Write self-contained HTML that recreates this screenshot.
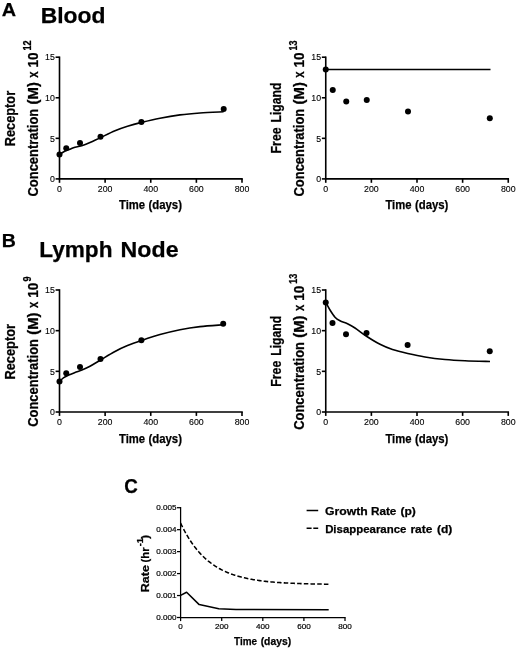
<!DOCTYPE html>
<html><head><meta charset="utf-8"><title>Figure</title>
<style>
html,body{margin:0;padding:0;background:#fff;}
body{width:520px;height:650px;overflow:hidden;}
svg{display:block;filter:blur(0.3px);}
text{fill:#000;}
.t{font-family:"Liberation Sans",sans-serif;font-weight:400;stroke:#000;stroke-width:0.12px;}
.t2{font-family:"Liberation Sans",sans-serif;font-weight:400;stroke:#000;stroke-width:0.2px;}
.b{font-family:"Liberation Sans",sans-serif;font-weight:700;stroke:#000;stroke-width:0.25px;}
</style></head><body>
<svg width="520" height="650" viewBox="0 0 520 650">
<rect width="520" height="650" fill="#fff"/>
<text x="1.70" y="15.70" font-size="19.2" class="b" textLength="14.34" lengthAdjust="spacingAndGlyphs">A</text>
<text x="1.68" y="247.40" font-size="19.2" class="b" textLength="14.09" lengthAdjust="spacingAndGlyphs">B</text>
<text x="124.15" y="493.30" font-size="19.6" class="b" textLength="13.56" lengthAdjust="spacingAndGlyphs">C</text>
<text x="40.66" y="23.10" font-size="22.5" class="b" textLength="64.73" lengthAdjust="spacingAndGlyphs">Blood</text>
<text x="39.17" y="257.10" font-size="22.5" class="b" textLength="73.30" lengthAdjust="spacingAndGlyphs">Lymph</text>
<text x="120.64" y="257.10" font-size="22.5" class="b" textLength="57.92" lengthAdjust="spacingAndGlyphs">Node</text>
<path d="M59.50 57.20 V178.90 H242.00" fill="none" stroke="#000" stroke-width="1.6" stroke-linecap="square"/>
<line x1="59.50" y1="178.90" x2="59.50" y2="182.80" stroke="#000" stroke-width="1.6"/>
<text x="59.50" y="192.10" font-size="9.8" text-anchor="middle" class="t" textLength="4.90" lengthAdjust="spacingAndGlyphs">0</text>
<line x1="105.12" y1="178.90" x2="105.12" y2="182.80" stroke="#000" stroke-width="1.6"/>
<text x="105.12" y="192.10" font-size="9.8" text-anchor="middle" class="t" textLength="14.71" lengthAdjust="spacingAndGlyphs">200</text>
<line x1="150.75" y1="178.90" x2="150.75" y2="182.80" stroke="#000" stroke-width="1.6"/>
<text x="150.75" y="192.10" font-size="9.8" text-anchor="middle" class="t" textLength="14.71" lengthAdjust="spacingAndGlyphs">400</text>
<line x1="196.38" y1="178.90" x2="196.38" y2="182.80" stroke="#000" stroke-width="1.6"/>
<text x="196.38" y="192.10" font-size="9.8" text-anchor="middle" class="t" textLength="14.71" lengthAdjust="spacingAndGlyphs">600</text>
<line x1="242.00" y1="178.90" x2="242.00" y2="182.80" stroke="#000" stroke-width="1.6"/>
<text x="242.00" y="192.10" font-size="9.8" text-anchor="middle" class="t" textLength="14.71" lengthAdjust="spacingAndGlyphs">800</text>
<line x1="55.60" y1="178.90" x2="59.50" y2="178.90" stroke="#000" stroke-width="1.6"/>
<text x="54.90" y="182.13" font-size="9.8" text-anchor="end" class="t" textLength="4.90" lengthAdjust="spacingAndGlyphs">0</text>
<line x1="55.60" y1="138.33" x2="59.50" y2="138.33" stroke="#000" stroke-width="1.6"/>
<text x="54.90" y="141.57" font-size="9.8" text-anchor="end" class="t" textLength="4.90" lengthAdjust="spacingAndGlyphs">5</text>
<line x1="55.60" y1="97.77" x2="59.50" y2="97.77" stroke="#000" stroke-width="1.6"/>
<text x="54.90" y="101.00" font-size="9.8" text-anchor="end" class="t" textLength="9.81" lengthAdjust="spacingAndGlyphs">10</text>
<line x1="55.60" y1="57.20" x2="59.50" y2="57.20" stroke="#000" stroke-width="1.6"/>
<text x="54.90" y="60.43" font-size="9.8" text-anchor="end" class="t" textLength="9.81" lengthAdjust="spacingAndGlyphs">15</text>
<path d="M59.50 154.50 C60.08 154.13 61.88 152.95 63.00 152.30 C64.12 151.65 65.08 151.12 66.25 150.60 C67.42 150.08 68.54 149.77 70.00 149.20 C71.46 148.63 72.92 147.82 75.00 147.20 C77.08 146.58 80.00 146.27 82.50 145.50 C85.00 144.73 87.00 143.92 90.00 142.60 C93.00 141.28 96.33 139.57 100.50 137.60 C104.67 135.62 110.50 132.64 115.00 130.75 C119.50 128.86 123.08 127.64 127.50 126.25 C131.92 124.86 136.08 123.74 141.50 122.40 C146.92 121.06 153.58 119.45 160.00 118.20 C166.42 116.95 173.33 115.77 180.00 114.90 C186.67 114.03 192.73 113.52 200.00 113.00 C207.27 112.48 219.67 112.00 223.60 111.80" fill="none" stroke="#000" stroke-width="1.6"/>
<circle cx="59.50" cy="154.50" r="3.0" fill="#000"/>
<circle cx="66.25" cy="148.25" r="3.0" fill="#000"/>
<circle cx="80.00" cy="143.00" r="3.0" fill="#000"/>
<circle cx="100.50" cy="136.75" r="3.0" fill="#000"/>
<circle cx="141.40" cy="122.10" r="3.0" fill="#000"/>
<circle cx="223.70" cy="109.00" r="3.0" fill="#000"/>
<text x="118.99" y="209.40" font-size="13.2" class="b" textLength="26.09" lengthAdjust="spacingAndGlyphs">Time</text>
<text x="148.53" y="209.40" font-size="13.2" class="b" textLength="33.44" lengthAdjust="spacingAndGlyphs">(days)</text>
<text transform="translate(38.00 196.52) rotate(-90)" font-size="13.8" class="b" textLength="87.80" lengthAdjust="spacingAndGlyphs">Concentration</text>
<text transform="translate(38.00 104.44) rotate(-90)" font-size="13.8" class="b" textLength="22.31" lengthAdjust="spacingAndGlyphs">(M)</text>
<text transform="translate(38.00 77.68) rotate(-90)" font-size="13.8" class="b" textLength="6.28" lengthAdjust="spacingAndGlyphs">x</text>
<text transform="translate(38.00 67.54) rotate(-90)" font-size="13.8" class="b" textLength="15.02" lengthAdjust="spacingAndGlyphs">10</text>
<text transform="translate(31.00 50.47) rotate(-90)" font-size="10.5" class="b" textLength="10.16" lengthAdjust="spacingAndGlyphs">12</text>
<text transform="translate(14.90 146.37) rotate(-90)" font-size="13.8" class="b" textLength="55.55" lengthAdjust="spacingAndGlyphs">Receptor</text>
<path d="M325.75 57.20 V178.90 H508.25" fill="none" stroke="#000" stroke-width="1.6" stroke-linecap="square"/>
<line x1="325.75" y1="178.90" x2="325.75" y2="182.80" stroke="#000" stroke-width="1.6"/>
<text x="325.75" y="192.10" font-size="9.8" text-anchor="middle" class="t" textLength="4.90" lengthAdjust="spacingAndGlyphs">0</text>
<line x1="371.38" y1="178.90" x2="371.38" y2="182.80" stroke="#000" stroke-width="1.6"/>
<text x="371.38" y="192.10" font-size="9.8" text-anchor="middle" class="t" textLength="14.71" lengthAdjust="spacingAndGlyphs">200</text>
<line x1="417.00" y1="178.90" x2="417.00" y2="182.80" stroke="#000" stroke-width="1.6"/>
<text x="417.00" y="192.10" font-size="9.8" text-anchor="middle" class="t" textLength="14.71" lengthAdjust="spacingAndGlyphs">400</text>
<line x1="462.62" y1="178.90" x2="462.62" y2="182.80" stroke="#000" stroke-width="1.6"/>
<text x="462.62" y="192.10" font-size="9.8" text-anchor="middle" class="t" textLength="14.71" lengthAdjust="spacingAndGlyphs">600</text>
<line x1="508.25" y1="178.90" x2="508.25" y2="182.80" stroke="#000" stroke-width="1.6"/>
<text x="508.25" y="192.10" font-size="9.8" text-anchor="middle" class="t" textLength="14.71" lengthAdjust="spacingAndGlyphs">800</text>
<line x1="321.85" y1="178.90" x2="325.75" y2="178.90" stroke="#000" stroke-width="1.6"/>
<text x="321.15" y="182.13" font-size="9.8" text-anchor="end" class="t" textLength="4.90" lengthAdjust="spacingAndGlyphs">0</text>
<line x1="321.85" y1="138.33" x2="325.75" y2="138.33" stroke="#000" stroke-width="1.6"/>
<text x="321.15" y="141.57" font-size="9.8" text-anchor="end" class="t" textLength="4.90" lengthAdjust="spacingAndGlyphs">5</text>
<line x1="321.85" y1="97.77" x2="325.75" y2="97.77" stroke="#000" stroke-width="1.6"/>
<text x="321.15" y="101.00" font-size="9.8" text-anchor="end" class="t" textLength="9.81" lengthAdjust="spacingAndGlyphs">10</text>
<line x1="321.85" y1="57.20" x2="325.75" y2="57.20" stroke="#000" stroke-width="1.6"/>
<text x="321.15" y="60.43" font-size="9.8" text-anchor="end" class="t" textLength="9.81" lengthAdjust="spacingAndGlyphs">15</text>
<path d="M325.75 69.60 L490.50 69.60" fill="none" stroke="#000" stroke-width="1.5" stroke-linejoin="round"/>
<circle cx="325.75" cy="69.50" r="3.0" fill="#000"/>
<circle cx="332.75" cy="90.00" r="3.0" fill="#000"/>
<circle cx="346.25" cy="101.50" r="3.0" fill="#000"/>
<circle cx="366.75" cy="100.00" r="3.0" fill="#000"/>
<circle cx="408.00" cy="111.50" r="3.0" fill="#000"/>
<circle cx="489.80" cy="118.30" r="3.0" fill="#000"/>
<text x="385.39" y="209.40" font-size="13.2" class="b" textLength="26.09" lengthAdjust="spacingAndGlyphs">Time</text>
<text x="414.93" y="209.40" font-size="13.2" class="b" textLength="33.44" lengthAdjust="spacingAndGlyphs">(days)</text>
<text transform="translate(304.25 196.52) rotate(-90)" font-size="13.8" class="b" textLength="87.80" lengthAdjust="spacingAndGlyphs">Concentration</text>
<text transform="translate(304.25 104.44) rotate(-90)" font-size="13.8" class="b" textLength="22.31" lengthAdjust="spacingAndGlyphs">(M)</text>
<text transform="translate(304.25 77.68) rotate(-90)" font-size="13.8" class="b" textLength="6.28" lengthAdjust="spacingAndGlyphs">x</text>
<text transform="translate(304.25 67.54) rotate(-90)" font-size="13.8" class="b" textLength="15.02" lengthAdjust="spacingAndGlyphs">10</text>
<text transform="translate(297.25 50.47) rotate(-90)" font-size="10.5" class="b" textLength="10.11" lengthAdjust="spacingAndGlyphs">13</text>
<text transform="translate(281.15 153.43) rotate(-90)" font-size="13.8" class="b" textLength="26.06" lengthAdjust="spacingAndGlyphs">Free</text>
<text transform="translate(281.15 122.42) rotate(-90)" font-size="13.8" class="b" textLength="39.81" lengthAdjust="spacingAndGlyphs">Ligand</text>
<path d="M59.50 290.00 V412.00 H242.00" fill="none" stroke="#000" stroke-width="1.6" stroke-linecap="square"/>
<line x1="59.50" y1="412.00" x2="59.50" y2="415.90" stroke="#000" stroke-width="1.6"/>
<text x="59.50" y="425.20" font-size="9.8" text-anchor="middle" class="t" textLength="4.90" lengthAdjust="spacingAndGlyphs">0</text>
<line x1="105.12" y1="412.00" x2="105.12" y2="415.90" stroke="#000" stroke-width="1.6"/>
<text x="105.12" y="425.20" font-size="9.8" text-anchor="middle" class="t" textLength="14.71" lengthAdjust="spacingAndGlyphs">200</text>
<line x1="150.75" y1="412.00" x2="150.75" y2="415.90" stroke="#000" stroke-width="1.6"/>
<text x="150.75" y="425.20" font-size="9.8" text-anchor="middle" class="t" textLength="14.71" lengthAdjust="spacingAndGlyphs">400</text>
<line x1="196.38" y1="412.00" x2="196.38" y2="415.90" stroke="#000" stroke-width="1.6"/>
<text x="196.38" y="425.20" font-size="9.8" text-anchor="middle" class="t" textLength="14.71" lengthAdjust="spacingAndGlyphs">600</text>
<line x1="242.00" y1="412.00" x2="242.00" y2="415.90" stroke="#000" stroke-width="1.6"/>
<text x="242.00" y="425.20" font-size="9.8" text-anchor="middle" class="t" textLength="14.71" lengthAdjust="spacingAndGlyphs">800</text>
<line x1="55.60" y1="412.00" x2="59.50" y2="412.00" stroke="#000" stroke-width="1.6"/>
<text x="54.90" y="415.23" font-size="9.8" text-anchor="end" class="t" textLength="4.90" lengthAdjust="spacingAndGlyphs">0</text>
<line x1="55.60" y1="371.33" x2="59.50" y2="371.33" stroke="#000" stroke-width="1.6"/>
<text x="54.90" y="374.57" font-size="9.8" text-anchor="end" class="t" textLength="4.90" lengthAdjust="spacingAndGlyphs">5</text>
<line x1="55.60" y1="330.67" x2="59.50" y2="330.67" stroke="#000" stroke-width="1.6"/>
<text x="54.90" y="333.90" font-size="9.8" text-anchor="end" class="t" textLength="9.81" lengthAdjust="spacingAndGlyphs">10</text>
<line x1="55.60" y1="290.00" x2="59.50" y2="290.00" stroke="#000" stroke-width="1.6"/>
<text x="54.90" y="293.23" font-size="9.8" text-anchor="end" class="t" textLength="9.81" lengthAdjust="spacingAndGlyphs">15</text>
<path d="M59.50 381.50 C60.21 380.87 62.21 378.78 63.75 377.70 C65.29 376.62 66.88 375.87 68.75 375.00 C70.62 374.13 72.71 373.37 75.00 372.50 C77.29 371.63 80.00 370.84 82.50 369.80 C85.00 368.76 87.00 367.88 90.00 366.25 C93.00 364.62 96.33 362.46 100.50 360.00 C104.67 357.54 110.50 353.90 115.00 351.50 C119.50 349.10 123.08 347.43 127.50 345.60 C131.92 343.77 136.08 342.33 141.50 340.50 C146.92 338.67 153.58 336.40 160.00 334.60 C166.42 332.80 173.33 331.03 180.00 329.70 C186.67 328.37 192.83 327.42 200.00 326.60 C207.17 325.78 219.17 325.10 223.00 324.80" fill="none" stroke="#000" stroke-width="1.6"/>
<circle cx="59.50" cy="381.50" r="3.0" fill="#000"/>
<circle cx="66.25" cy="373.25" r="3.0" fill="#000"/>
<circle cx="80.00" cy="367.00" r="3.0" fill="#000"/>
<circle cx="100.50" cy="359.00" r="3.0" fill="#000"/>
<circle cx="141.40" cy="340.20" r="3.0" fill="#000"/>
<circle cx="223.20" cy="323.75" r="3.0" fill="#000"/>
<text x="118.99" y="443.20" font-size="13.2" class="b" textLength="26.09" lengthAdjust="spacingAndGlyphs">Time</text>
<text x="148.53" y="443.20" font-size="13.2" class="b" textLength="33.44" lengthAdjust="spacingAndGlyphs">(days)</text>
<text transform="translate(38.00 426.82) rotate(-90)" font-size="13.8" class="b" textLength="87.80" lengthAdjust="spacingAndGlyphs">Concentration</text>
<text transform="translate(38.00 334.74) rotate(-90)" font-size="13.8" class="b" textLength="22.31" lengthAdjust="spacingAndGlyphs">(M)</text>
<text transform="translate(38.00 307.98) rotate(-90)" font-size="13.8" class="b" textLength="6.28" lengthAdjust="spacingAndGlyphs">x</text>
<text transform="translate(38.00 297.84) rotate(-90)" font-size="13.8" class="b" textLength="15.02" lengthAdjust="spacingAndGlyphs">10</text>
<text transform="translate(31.00 281.52) rotate(-90)" font-size="10.5" class="b" textLength="5.05" lengthAdjust="spacingAndGlyphs">9</text>
<text transform="translate(14.90 379.57) rotate(-90)" font-size="13.8" class="b" textLength="55.55" lengthAdjust="spacingAndGlyphs">Receptor</text>
<path d="M325.75 290.00 V412.00 H508.25" fill="none" stroke="#000" stroke-width="1.6" stroke-linecap="square"/>
<line x1="325.75" y1="412.00" x2="325.75" y2="415.90" stroke="#000" stroke-width="1.6"/>
<text x="325.75" y="425.20" font-size="9.8" text-anchor="middle" class="t" textLength="4.90" lengthAdjust="spacingAndGlyphs">0</text>
<line x1="371.38" y1="412.00" x2="371.38" y2="415.90" stroke="#000" stroke-width="1.6"/>
<text x="371.38" y="425.20" font-size="9.8" text-anchor="middle" class="t" textLength="14.71" lengthAdjust="spacingAndGlyphs">200</text>
<line x1="417.00" y1="412.00" x2="417.00" y2="415.90" stroke="#000" stroke-width="1.6"/>
<text x="417.00" y="425.20" font-size="9.8" text-anchor="middle" class="t" textLength="14.71" lengthAdjust="spacingAndGlyphs">400</text>
<line x1="462.62" y1="412.00" x2="462.62" y2="415.90" stroke="#000" stroke-width="1.6"/>
<text x="462.62" y="425.20" font-size="9.8" text-anchor="middle" class="t" textLength="14.71" lengthAdjust="spacingAndGlyphs">600</text>
<line x1="508.25" y1="412.00" x2="508.25" y2="415.90" stroke="#000" stroke-width="1.6"/>
<text x="508.25" y="425.20" font-size="9.8" text-anchor="middle" class="t" textLength="14.71" lengthAdjust="spacingAndGlyphs">800</text>
<line x1="321.85" y1="412.00" x2="325.75" y2="412.00" stroke="#000" stroke-width="1.6"/>
<text x="321.15" y="415.23" font-size="9.8" text-anchor="end" class="t" textLength="4.90" lengthAdjust="spacingAndGlyphs">0</text>
<line x1="321.85" y1="371.33" x2="325.75" y2="371.33" stroke="#000" stroke-width="1.6"/>
<text x="321.15" y="374.57" font-size="9.8" text-anchor="end" class="t" textLength="4.90" lengthAdjust="spacingAndGlyphs">5</text>
<line x1="321.85" y1="330.67" x2="325.75" y2="330.67" stroke="#000" stroke-width="1.6"/>
<text x="321.15" y="333.90" font-size="9.8" text-anchor="end" class="t" textLength="9.81" lengthAdjust="spacingAndGlyphs">10</text>
<line x1="321.85" y1="290.00" x2="325.75" y2="290.00" stroke="#000" stroke-width="1.6"/>
<text x="321.15" y="293.23" font-size="9.8" text-anchor="end" class="t" textLength="9.81" lengthAdjust="spacingAndGlyphs">15</text>
<path d="M325.75 302.50 C326.46 303.75 328.46 307.55 330.00 310.00 C331.54 312.45 333.33 315.41 335.00 317.20 C336.67 318.99 337.92 319.66 340.00 320.75 C342.08 321.84 345.00 322.54 347.50 323.75 C350.00 324.96 351.83 325.92 355.00 328.00 C358.17 330.08 362.33 333.53 366.50 336.25 C370.67 338.97 375.67 342.09 380.00 344.30 C384.33 346.51 387.88 347.97 392.50 349.50 C397.12 351.03 402.33 352.25 407.75 353.50 C413.17 354.75 418.79 356.00 425.00 357.00 C431.21 358.00 438.33 358.88 445.00 359.50 C451.67 360.12 457.50 360.42 465.00 360.75 C472.50 361.08 485.83 361.38 490.00 361.50" fill="none" stroke="#000" stroke-width="1.6"/>
<circle cx="325.75" cy="302.50" r="3.0" fill="#000"/>
<circle cx="332.50" cy="323.00" r="3.0" fill="#000"/>
<circle cx="346.00" cy="334.25" r="3.0" fill="#000"/>
<circle cx="366.50" cy="333.00" r="3.0" fill="#000"/>
<circle cx="407.60" cy="345.00" r="3.0" fill="#000"/>
<circle cx="489.75" cy="351.25" r="3.0" fill="#000"/>
<text x="385.39" y="443.20" font-size="13.2" class="b" textLength="26.09" lengthAdjust="spacingAndGlyphs">Time</text>
<text x="414.93" y="443.20" font-size="13.2" class="b" textLength="33.44" lengthAdjust="spacingAndGlyphs">(days)</text>
<text transform="translate(304.25 429.82) rotate(-90)" font-size="13.8" class="b" textLength="87.80" lengthAdjust="spacingAndGlyphs">Concentration</text>
<text transform="translate(304.25 337.74) rotate(-90)" font-size="13.8" class="b" textLength="22.31" lengthAdjust="spacingAndGlyphs">(M)</text>
<text transform="translate(304.25 310.98) rotate(-90)" font-size="13.8" class="b" textLength="6.28" lengthAdjust="spacingAndGlyphs">x</text>
<text transform="translate(304.25 300.84) rotate(-90)" font-size="13.8" class="b" textLength="15.02" lengthAdjust="spacingAndGlyphs">10</text>
<text transform="translate(297.25 283.77) rotate(-90)" font-size="10.5" class="b" textLength="10.11" lengthAdjust="spacingAndGlyphs">13</text>
<text transform="translate(281.15 386.73) rotate(-90)" font-size="13.8" class="b" textLength="26.06" lengthAdjust="spacingAndGlyphs">Free</text>
<text transform="translate(281.15 355.72) rotate(-90)" font-size="13.8" class="b" textLength="39.81" lengthAdjust="spacingAndGlyphs">Ligand</text>
<path d="M180.60 507.70 V617.50 H345.00" fill="none" stroke="#000" stroke-width="1.25" stroke-linecap="square"/>
<line x1="180.60" y1="617.50" x2="180.60" y2="621.10" stroke="#000" stroke-width="1.25"/>
<text x="180.60" y="629.40" font-size="8.1" text-anchor="middle" class="t2" textLength="4.50" lengthAdjust="spacingAndGlyphs">0</text>
<line x1="221.70" y1="617.50" x2="221.70" y2="621.10" stroke="#000" stroke-width="1.25"/>
<text x="221.70" y="629.40" font-size="8.1" text-anchor="middle" class="t2" textLength="13.51" lengthAdjust="spacingAndGlyphs">200</text>
<line x1="262.80" y1="617.50" x2="262.80" y2="621.10" stroke="#000" stroke-width="1.25"/>
<text x="262.80" y="629.40" font-size="8.1" text-anchor="middle" class="t2" textLength="13.51" lengthAdjust="spacingAndGlyphs">400</text>
<line x1="303.90" y1="617.50" x2="303.90" y2="621.10" stroke="#000" stroke-width="1.25"/>
<text x="303.90" y="629.40" font-size="8.1" text-anchor="middle" class="t2" textLength="13.51" lengthAdjust="spacingAndGlyphs">600</text>
<line x1="345.00" y1="617.50" x2="345.00" y2="621.10" stroke="#000" stroke-width="1.25"/>
<text x="345.00" y="629.40" font-size="8.1" text-anchor="middle" class="t2" textLength="13.51" lengthAdjust="spacingAndGlyphs">800</text>
<line x1="177.00" y1="617.50" x2="180.60" y2="617.50" stroke="#000" stroke-width="1.25"/>
<text x="176.50" y="620.17" font-size="8.1" text-anchor="end" class="t2" textLength="20.27" lengthAdjust="spacingAndGlyphs">0.000</text>
<line x1="177.00" y1="595.54" x2="180.60" y2="595.54" stroke="#000" stroke-width="1.25"/>
<text x="176.50" y="598.21" font-size="8.1" text-anchor="end" class="t2" textLength="20.27" lengthAdjust="spacingAndGlyphs">0.001</text>
<line x1="177.00" y1="573.58" x2="180.60" y2="573.58" stroke="#000" stroke-width="1.25"/>
<text x="176.50" y="576.25" font-size="8.1" text-anchor="end" class="t2" textLength="20.27" lengthAdjust="spacingAndGlyphs">0.002</text>
<line x1="177.00" y1="551.62" x2="180.60" y2="551.62" stroke="#000" stroke-width="1.25"/>
<text x="176.50" y="554.29" font-size="8.1" text-anchor="end" class="t2" textLength="20.27" lengthAdjust="spacingAndGlyphs">0.003</text>
<line x1="177.00" y1="529.66" x2="180.60" y2="529.66" stroke="#000" stroke-width="1.25"/>
<text x="176.50" y="532.33" font-size="8.1" text-anchor="end" class="t2" textLength="20.27" lengthAdjust="spacingAndGlyphs">0.004</text>
<line x1="177.00" y1="507.70" x2="180.60" y2="507.70" stroke="#000" stroke-width="1.25"/>
<text x="176.50" y="510.37" font-size="8.1" text-anchor="end" class="t2" textLength="20.27" lengthAdjust="spacingAndGlyphs">0.005</text>
<path d="M180.60 523.07 L181.63 525.23 L182.66 527.31 L183.68 529.32 L184.71 531.26 L185.74 533.13 L186.76 534.93 L187.79 536.67 L188.82 538.35 L189.85 539.97 L190.88 541.54 L191.90 543.05 L192.93 544.50 L193.96 545.91 L194.98 547.27 L196.01 548.57 L197.04 549.84 L198.07 551.05 L199.09 552.23 L200.12 553.36 L201.15 554.46 L202.18 555.52 L203.20 556.53 L204.23 557.52 L205.26 558.47 L206.29 559.38 L207.31 560.26 L208.34 561.12 L209.37 561.94 L210.40 562.73 L211.43 563.50 L212.45 564.24 L213.48 564.95 L214.51 565.64 L215.53 566.30 L216.56 566.94 L217.59 567.56 L218.62 568.16 L219.64 568.73 L220.67 569.29 L221.70 569.82 L222.73 570.34 L223.75 570.84 L224.78 571.32 L225.81 571.79 L226.84 572.23 L227.87 572.67 L228.89 573.08 L229.92 573.49 L230.95 573.87 L231.97 574.25 L233.00 574.61 L234.03 574.96 L235.06 575.30 L236.09 575.62 L237.11 575.94 L238.14 576.24 L239.17 576.53 L240.19 576.81 L241.22 577.08 L242.25 577.35 L243.28 577.60 L244.31 577.84 L245.33 578.08 L246.36 578.31 L247.39 578.53 L248.42 578.74 L249.44 578.94 L250.47 579.14 L251.50 579.33 L252.53 579.51 L253.55 579.69 L254.58 579.86 L255.61 580.03 L256.63 580.18 L257.66 580.34 L258.69 580.49 L259.72 580.63 L260.75 580.77 L261.77 580.90 L262.80 581.03 L263.83 581.15 L264.86 581.27 L265.88 581.39 L266.91 581.50 L267.94 581.61 L268.97 581.71 L269.99 581.81 L271.02 581.91 L272.05 582.00 L273.07 582.09 L274.10 582.18 L275.13 582.26 L276.16 582.34 L277.19 582.42 L278.21 582.49 L279.24 582.57 L280.27 582.64 L281.30 582.70 L282.32 582.77 L283.35 582.83 L284.38 582.89 L285.40 582.95 L286.43 583.01 L287.46 583.06 L288.49 583.11 L289.51 583.16 L290.54 583.21 L291.57 583.26 L292.60 583.31 L293.62 583.35 L294.65 583.39 L295.68 583.43 L296.71 583.47 L297.74 583.51 L298.76 583.55 L299.79 583.58 L300.82 583.62 L301.85 583.65 L302.87 583.68 L303.90 583.71 L304.93 583.74 L305.95 583.77 L306.98 583.80 L308.01 583.83 L309.04 583.85 L310.06 583.88 L311.09 583.90 L312.12 583.92 L313.15 583.95 L314.18 583.97 L315.20 583.99 L316.23 584.01 L317.26 584.03 L318.28 584.05 L319.31 584.06 L320.34 584.08 L321.37 584.10 L322.39 584.12 L323.42 584.13 L324.45 584.15 L325.48 584.16 L326.50 584.17 L327.53 584.19 L328.56 584.20" fill="none" stroke="#000" stroke-width="1.55" stroke-linejoin="round" stroke-dasharray="4.5 2.2"/>
<path d="M180.60 595.40 L186.60 592.20 L199.20 604.60 L218.80 608.70 L236.00 609.50 L328.70 609.70" fill="none" stroke="#000" stroke-width="1.55" stroke-linejoin="round"/>
<text x="234.10" y="644.80" font-size="11.2" class="b" textLength="22.93" lengthAdjust="spacingAndGlyphs">Time</text>
<text x="260.68" y="644.80" font-size="11.2" class="b" textLength="30.44" lengthAdjust="spacingAndGlyphs">(days)</text>
<text transform="translate(149.30 592.14) rotate(-90)" font-size="11.2" class="b" textLength="26.94" lengthAdjust="spacingAndGlyphs">Rate</text>
<text transform="translate(149.30 562.46) rotate(-90)" font-size="11.2" class="b" textLength="15.01" lengthAdjust="spacingAndGlyphs">(hr</text>
<text transform="translate(142.60 546.37) rotate(-90)" font-size="8.8" class="b" textLength="8.24" lengthAdjust="spacingAndGlyphs">-1</text>
<text transform="translate(149.30 538.93) rotate(-90)" font-size="11.2" class="b" textLength="4.16" lengthAdjust="spacingAndGlyphs">)</text>
<line x1="306.6" y1="510.5" x2="318.2" y2="510.5" stroke="#000" stroke-width="1.5"/>
<line x1="306.6" y1="528.3" x2="318.2" y2="528.3" stroke="#000" stroke-width="1.5" stroke-dasharray="5 1.7"/>
<text x="325.11" y="514.70" font-size="11.8" class="b" textLength="42.72" lengthAdjust="spacingAndGlyphs">Growth</text>
<text x="370.91" y="514.70" font-size="11.8" class="b" textLength="25.48" lengthAdjust="spacingAndGlyphs">Rate</text>
<text x="400.50" y="514.70" font-size="11.8" class="b" textLength="15.40" lengthAdjust="spacingAndGlyphs">(p)</text>
<text x="325.13" y="532.70" font-size="11.8" class="b" textLength="81.24" lengthAdjust="spacingAndGlyphs">Disappearance</text>
<text x="410.42" y="532.70" font-size="11.8" class="b" textLength="21.89" lengthAdjust="spacingAndGlyphs">rate</text>
<text x="436.90" y="532.70" font-size="11.8" class="b" textLength="15.40" lengthAdjust="spacingAndGlyphs">(d)</text>
</svg>
</body></html>
